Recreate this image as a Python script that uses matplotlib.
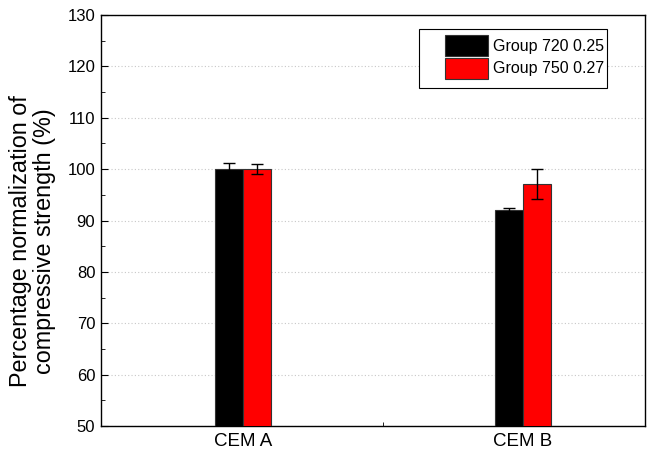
import matplotlib
matplotlib.use("Agg")
import matplotlib.pyplot as plt
import numpy as np
from matplotlib.ticker import MultipleLocator, FixedLocator
from matplotlib.patches import Rectangle

plt.rcParams['font.family'] = ['Liberation Sans', 'DejaVu Sans']

categories = ["CEM A", "CEM B"]
series_names = ["Group 720 0.25", "Group 750 0.27"]
group720 = [100.0, 92.0]
group720_err = [1.2, 0.5]
group750 = [100.0, 97.1]
group750_err = [1.0, 3.0]
colors = ["#000000", "#ff0000"]

W, H = 655, 457
fig = plt.figure(figsize=(W / 100, H / 100), dpi=100)
ax = fig.add_axes([0.154, 0.068, 0.831, 0.899])

x = np.arange(1, len(categories) + 1)
w = 0.1
for offs, vals, errs, col, name in [(-w / 2, group720, group720_err, colors[0], series_names[0]),
                                    (w / 2, group750, group750_err, colors[1], series_names[1])]:
    ax.bar(x + offs, vals, width=w, color=col, edgecolor="#333333", linewidth=0.8,
           label=name, zorder=3)
    ax.errorbar(x + offs, vals, yerr=errs, fmt="none", ecolor="black",
                elinewidth=1, capsize=4, capthick=1, zorder=4)

ax.set_xlim(0.493, 2.436)
ax.set_ylim(50, 130)
ax.set_xticks(x)
ax.set_xticklabels(categories, fontsize=13.5)
ax.xaxis.set_minor_locator(FixedLocator([1.5]))
ax.tick_params(axis="x", which="major", length=0, pad=5)
ax.tick_params(axis="x", which="minor", direction="in", length=3)
ax.yaxis.set_major_locator(MultipleLocator(10))
ax.yaxis.set_minor_locator(MultipleLocator(5))
ax.tick_params(axis="y", which="major", direction="in", length=5, labelsize=12, pad=4)
ax.tick_params(axis="y", which="minor", direction="in", length=3)
ax.grid(axis="y", which="major", linestyle=(0, (1, 2)), color="#c8c8c8", linewidth=0.8, zorder=0)
ax.set_axisbelow(True)
for s in ax.spines.values():
    s.set_linewidth(1.0)

ax.set_ylabel("Percentage normalization of\ncompressive strength (%)", fontsize=16.8,
              linespacing=1.05)
ax.yaxis.set_label_coords(-0.083, 0.45)

# legend entries without their own frame; the box is drawn separately behind them
leg = ax.legend(loc="upper left", bbox_to_anchor=(445 / W, 1 - 35 / H),
                bbox_transform=fig.transFigure, fontsize=11.5,
                frameon=False, handlelength=2.7, handleheight=1.64,
                handletextpad=0.3, labelspacing=0.11, borderpad=0.0,
                borderaxespad=0.0)
leg.set_zorder(6)
ax.add_patch(Rectangle((419 / W, 1 - 88 / H), 188 / W, 59 / H,
                       transform=fig.transFigure, fill=True, facecolor="white",
                       edgecolor="black", linewidth=0.8, zorder=5, clip_on=False))

fig.savefig("out.png", dpi=100)
